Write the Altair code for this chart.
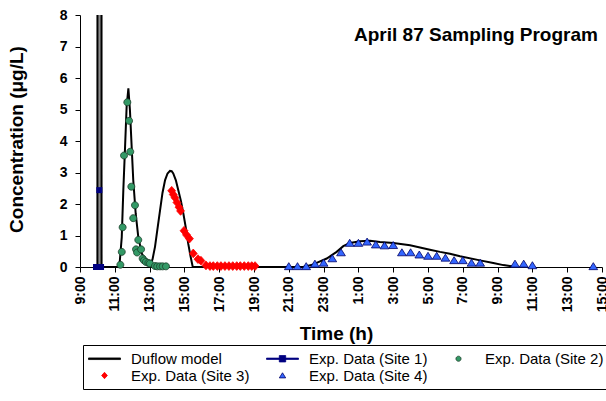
import altair as alt
import pandas as pd

# Time is expressed as hours elapsed since 9:00 on the first sampling day.
SERIES = ["Duflow model", "Exp. Data (Site 1)", "Exp. Data (Site 2)",
          "Exp. Data (Site 3)", "Exp. Data (Site 4)"]

# Duflow model output (concentration in ug/L)
model_t = [0.90, 1.00, 1.01, 1.23, 1.24,
           2.26, 2.40, 2.49, 2.59, 2.68, 2.78, 2.87, 2.97, 3.06, 3.20, 3.35, 3.55, 3.83, 4.02,
           4.17, 4.31, 4.45, 4.60, 4.74, 4.89, 5.03, 5.17, 5.27, 5.36, 5.51, 5.65, 5.80, 5.94,
           6.08, 6.22, 6.35, 6.48,
           12.82, 13.41, 13.60, 14.18, 14.75, 15.13, 15.52, 16.09, 16.67, 17.24, 18.01, 18.97,
           20.11, 20.69, 21.26, 21.84, 22.99, 23.75, 24.33, 24.71, 25.06]
model_c = [0.0, 0.0, 30.0, 30.0, 0.0,
           0.0, 0.95, 2.44, 3.81, 5.09, 5.67, 4.98, 3.81, 2.76, 1.70, 0.95, 0.43, 0.16, 0.03,
           0.25, 0.64, 1.20, 1.80, 2.35, 2.76, 2.97, 3.05, 3.04, 2.97, 2.75, 2.44, 2.10, 1.70,
           1.25, 0.74, 0.35, 0.0,
           0.0, 0.08, 0.13, 0.27, 0.48, 0.66, 0.76, 0.82, 0.83, 0.79, 0.76, 0.69,
           0.55, 0.48, 0.42, 0.34, 0.21, 0.13, 0.06, 0.03, 0.0]

# Measured concentrations
site1_t = [0.92, 1.11, 1.21]
site1_c = [0.0, 2.44, 0.0]

site2_t = [2.32, 2.40, 2.45, 2.53, 2.72, 2.82, 2.89, 2.95, 3.06, 3.16, 3.22, 3.28, 3.35,
           3.51, 3.60, 3.68, 3.79, 3.93, 4.02, 4.31, 4.44, 4.60, 4.75, 4.94]
site2_c = [0.07, 0.48, 1.26, 3.54, 5.23, 4.64, 3.66, 2.55, 1.55, 1.96, 0.56, 0.46, 0.86,
           0.56, 0.27, 0.21, 0.16, 0.13, 0.11, 0.03, 0.02, 0.02, 0.02, 0.02]

site3_t = [5.27, 5.36, 5.46, 5.57, 5.69, 5.78, 5.98, 6.12, 6.29, 6.51, 6.78, 6.95, 7.24,
           7.47, 7.66, 7.89, 8.10, 8.33, 8.56, 8.78, 9.01, 9.21, 9.44, 9.67, 9.87, 10.06]
site3_c = [2.42, 2.30, 2.20, 2.05, 1.90, 1.78, 1.15, 1.02, 0.90, 0.43, 0.25, 0.20, 0.05,
           0.03, 0.03, 0.03, 0.03, 0.03, 0.03, 0.03, 0.03, 0.03, 0.03, 0.03, 0.03, 0.03]

site4_t = [12.0, 12.5, 13.0, 13.5, 14.0, 14.5, 15.0, 15.5, 16.0, 16.5, 17.0, 17.5, 18.0,
           18.5, 19.0, 19.5, 20.0, 20.5, 21.0, 21.5, 22.0, 22.5, 23.0, 25.0, 25.5, 26.0, 29.5]
site4_c = [0.02, 0.02, 0.02, 0.10, 0.13, 0.27, 0.46, 0.76, 0.76, 0.80, 0.71, 0.68, 0.69,
           0.46, 0.46, 0.39, 0.35, 0.35, 0.29, 0.21, 0.21, 0.13, 0.13, 0.10, 0.10, 0.05, 0.02]

x_ticks = list(range(0, 31, 2))
y_ticks = list(range(0, 9))

model = pd.DataFrame({"t": model_t, "c": model_c})
site1 = pd.DataFrame({"t": site1_t, "c": site1_c})
sites = pd.concat([
    pd.DataFrame({"t": site2_t, "c": site2_c, "series": SERIES[2]}),
    pd.DataFrame({"t": site3_t, "c": site3_c, "series": SERIES[3]}),
    pd.DataFrame({"t": site4_t, "c": site4_c, "series": SERIES[4]}),
])

# Symbol paths (scaled by sqrt(size)/2); the first two are legend keys only,
# their horizontal strokes reaching past the nominal symbol box.
shapes = [
    "M-2,-0.1H2V0.1H-2Z",
    "M-2,-0.08H2V0.08H-2ZM-0.4,-0.4H0.4V0.4H-0.4Z",
    "M0.32,0A0.32,0.32,0,1,1,-0.32,0A0.32,0.32,0,1,1,0.32,0Z",
    "M0,-0.4L0.36,0L0,0.4L-0.36,0Z",
    "M0,-0.34L0.4,0.3L-0.4,0.3Z",
]
fills = ["#000000", "#000080", "#339966", "#FF0000", "#3366FF"]
strokes = ["#000000", "#000080", "#1B3D2A", "#FF0000", "#000066"]

x_enc = alt.X("t:Q", scale=alt.Scale(domain=[0, 30], nice=False, zero=False),
              axis=alt.Axis(values=x_ticks, labelExpr="((datum.value + 9) % 24) + ':00'",
                            labelAngle=270, title="Time (h)", titleX=256, titleY=66,
                            titleAlign="center", titleBaseline="middle",
                            labelPadding=4, tickSize=5))
y_enc = alt.Y("c:Q", scale=alt.Scale(domain=[0, 8], nice=False),
              axis=alt.Axis(values=y_ticks, title="Concentration (μg/L)", titleX=-64,
                            titleY=124, titleAlign="center", titleBaseline="middle",
                            titleAngle=270, labelPadding=8, tickSize=5))

legend = alt.Legend(title=None, orient="none", legendX=3, legendY=330,
                    direction="horizontal", columns=3, symbolSize=256, symbolOffset=8,
                    symbolStrokeWidth=0.8, labelFont="Liberation Sans", labelFontSize=15,
                    labelColor="black", labelOffset=18, labelLimit=400,
                    strokeColor="black", fillColor="white", padding=5,
                    columnPadding=14, rowPadding=0)

spike = alt.Chart(model).transform_filter("datum.t < 1.5").mark_area(
    color="#8C8C8C", clip=True).encode(x=x_enc, y=y_enc)

model_line = alt.Chart(model).mark_line(color="black", strokeWidth=2, clip=True).encode(
    x=x_enc, y=y_enc)

site1_pts = alt.Chart(site1).mark_point(shape="square", size=36, filled=True,
                                        color="#000080", opacity=1).encode(x=x_enc, y=y_enc)

pts = alt.Chart(sites).mark_point(filled=True, size=478, opacity=1, strokeWidth=0.8).encode(
    x=x_enc, y=y_enc,
    shape=alt.Shape("series:N", scale=alt.Scale(domain=SERIES, range=shapes), legend=legend),
    fill=alt.Fill("series:N", scale=alt.Scale(domain=SERIES, range=fills), legend=legend),
    stroke=alt.Stroke("series:N", scale=alt.Scale(domain=SERIES, range=strokes), legend=legend),
)

title = alt.Chart(pd.DataFrame({"label": ["April 87 Sampling Program"]})).mark_text(
    font="Liberation Sans", fontWeight="bold", fontSize=19, align="center",
    baseline="middle", color="black").encode(text="label:N", x=alt.value(396), y=alt.value(20))

chart = alt.layer(spike, model_line, site1_pts, pts, title).properties(
    width=522, height=252, autosize="none",
    padding={"left": 80, "top": 15, "right": 4, "bottom": 134},
).configure_view(stroke=None).configure_axis(
    grid=False, domainColor="black", tickColor="black", labelColor="black",
    titleColor="black", labelFont="Liberation Sans", labelFontWeight="bold",
    labelFontSize=14, titleFont="Liberation Sans", titleFontWeight="bold",
    titleFontSize=19,
)

chart.save("out.html", embed_options={"renderer": "svg", "actions": False})
